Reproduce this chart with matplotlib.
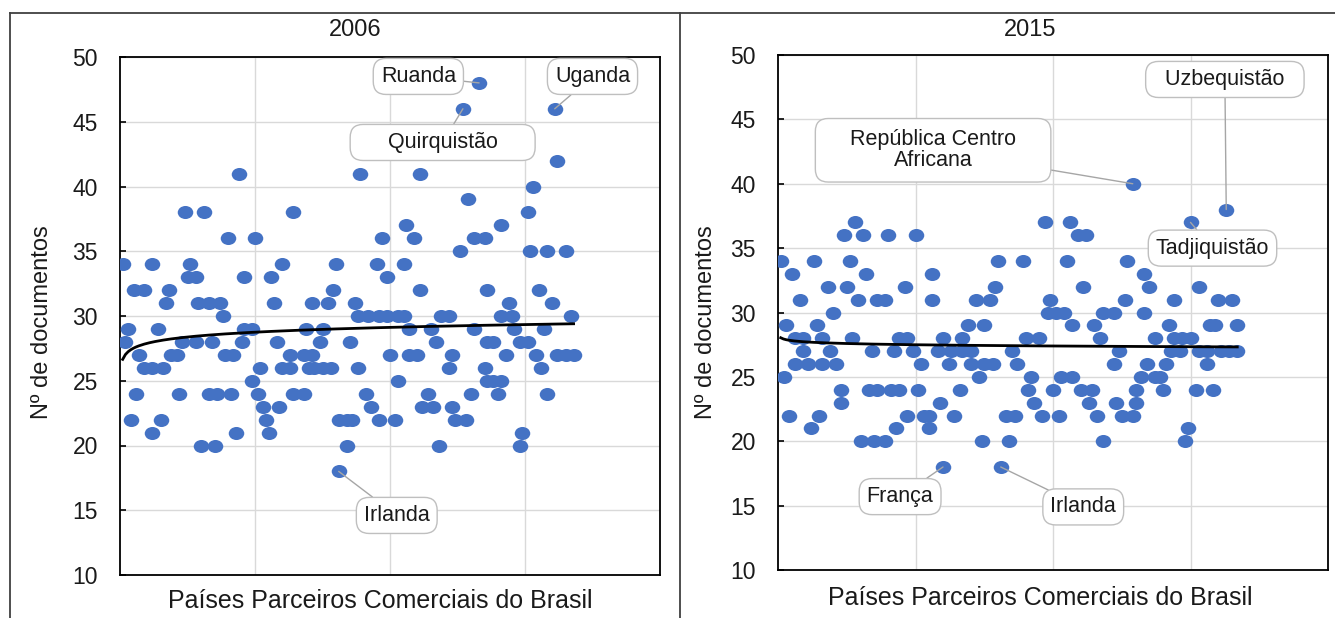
import numpy as np
import matplotlib
matplotlib.use("Agg")
import matplotlib.pyplot as plt
from matplotlib.path import Path
from matplotlib.lines import Line2D

plt.rcParams['font.family'] = ['Liberation Sans', 'DejaVu Sans']

# (país, nº de documentos) -- 2006
pts_2006 = [
    (133, 48), (127, 46), (161, 46), (162, 42),
    (44, 41), (89, 41), (111, 41), (153, 40), (129, 39),
    (24, 38), (31, 38), (64, 38), (151, 38), (106, 37), (141, 37),
    (40, 36), (50, 36), (97, 36), (109, 36), (131, 36), (135, 36),
    (126, 35), (152, 35), (158, 35), (165, 35),
    (1, 34), (12, 34), (26, 34), (60, 34), (80, 34), (95, 34), (105, 34),
    (25, 33), (28, 33), (46, 33), (56, 33), (99, 33),
    (5, 32), (9, 32), (18, 32), (79, 32), (111, 32), (136, 32), (155, 32),
    (17, 31), (29, 31), (33, 31), (37, 31), (57, 31), (71, 31), (77, 31), (87, 31), (144, 31), (160, 31),
    (38, 30), (88, 30), (92, 30), (96, 30), (99, 30), (103, 30), (105, 30), (119, 30), (122, 30),
    (141, 30), (145, 30), (167, 30),
    (3, 29), (14, 29), (46, 29), (49, 29), (69, 29), (75, 29), (107, 29), (115, 29), (131, 29),
    (146, 29), (157, 29),
    (2, 28), (23, 28), (28, 28), (34, 28), (45, 28), (58, 28), (74, 28), (85, 28), (117, 28),
    (136, 28), (138, 28), (148, 28), (151, 28),
    (7, 27), (19, 27), (21, 27), (39, 27), (42, 27), (63, 27), (68, 27), (71, 27), (100, 27),
    (107, 27), (110, 27), (123, 27), (143, 27), (154, 27), (162, 27), (165, 27), (168, 27),
    (9, 26), (12, 26), (16, 26), (52, 26), (60, 26), (63, 26), (70, 26), (72, 26), (75, 26),
    (78, 26), (88, 26), (122, 26), (135, 26), (156, 26),
    (49, 25), (103, 25), (136, 25), (138, 25), (141, 25),
    (6, 24), (22, 24), (33, 24), (36, 24), (41, 24), (51, 24), (64, 24), (68, 24), (91, 24),
    (114, 24), (130, 24), (140, 24), (158, 24),
    (53, 23), (59, 23), (93, 23), (112, 23), (116, 23), (123, 23),
    (4, 22), (15, 22), (54, 22), (81, 22), (84, 22), (86, 22), (96, 22), (102, 22), (124, 22), (128, 22),
    (12, 21), (43, 21), (55, 21), (149, 21),
    (30, 20), (35, 20), (84, 20), (118, 20), (148, 20),
    (81, 18),
]

# 2015
pts_2015 = [
    (129, 40), (163, 38),
    (28, 37), (97, 37), (106, 37), (150, 37),
    (24, 36), (31, 36), (40, 36), (50, 36), (109, 36), (112, 36),
    (1, 34), (13, 34), (26, 34), (80, 34), (89, 34), (105, 34), (127, 34),
    (5, 33), (32, 33), (56, 33), (133, 33),
    (18, 32), (25, 32), (46, 32), (79, 32), (111, 32), (135, 32), (153, 32),
    (8, 31), (29, 31), (36, 31), (39, 31), (56, 31), (72, 31), (77, 31), (99, 31), (126, 31),
    (144, 31), (160, 31), (165, 31),
    (20, 30), (98, 30), (101, 30), (104, 30), (118, 30), (122, 30), (133, 30),
    (3, 29), (14, 29), (69, 29), (75, 29), (107, 29), (115, 29), (142, 29), (157, 29), (159, 29), (167, 29),
    (6, 28), (9, 28), (16, 28), (27, 28), (44, 28), (47, 28), (60, 28), (67, 28), (90, 28),
    (95, 28), (117, 28), (137, 28), (144, 28), (147, 28), (150, 28),
    (9, 27), (19, 27), (34, 27), (42, 27), (49, 27), (58, 27), (63, 27), (67, 27), (70, 27),
    (85, 27), (124, 27), (143, 27), (146, 27), (153, 27), (156, 27), (161, 27), (164, 27), (167, 27),
    (6, 26), (11, 26), (16, 26), (21, 26), (52, 26), (62, 26), (70, 26), (75, 26), (78, 26),
    (87, 26), (122, 26), (134, 26), (141, 26), (156, 26),
    (2, 25), (73, 25), (92, 25), (103, 25), (107, 25), (132, 25), (137, 25), (139, 25),
    (23, 24), (33, 24), (36, 24), (41, 24), (44, 24), (51, 24), (66, 24), (91, 24), (100, 24),
    (110, 24), (114, 24), (130, 24), (140, 24), (152, 24), (158, 24),
    (23, 23), (59, 23), (93, 23), (113, 23), (123, 23), (130, 23),
    (4, 22), (15, 22), (47, 22), (53, 22), (55, 22), (64, 22), (83, 22), (86, 22), (96, 22),
    (102, 22), (116, 22), (125, 22), (129, 22),
    (12, 21), (43, 21), (55, 21), (149, 21),
    (30, 20), (35, 20), (39, 20), (74, 20), (84, 20), (118, 20), (148, 20),
    (60, 18), (81, 18),
]

names_2006 = ["Ruanda", "Quirquistão", "Uganda", "Irlanda"]
named_2006 = [(133, 48), (127, 46), (161, 46), (81, 18)]
names_2015 = ["República Centro\nAfricana", "Uzbequistão", "Tadjiquistão", "França", "Irlanda"]
named_2015 = [(129, 40), (163, 38), (150, 37), (60, 18), (81, 18)]

W, H = 1335, 618
fig = plt.figure(figsize=(W / 100, H / 100), dpi=100)

blue = "#4472C4"
txt = "#1a1a1a"

circ = Path.unit_circle()
ell = Path(circ.vertices * [1.0, 0.84], circ.codes)


def panel(rect, pts, names, named, box_xy, label_text, box_pad):
    ax = fig.add_axes(rect)
    x, y = np.array(pts, dtype=float).T
    ax.scatter(x, y, s=125, marker=ell, color=blue, linewidths=0, zorder=3)
    # linha de tendência logarítmica
    b, a = np.polyfit(np.log(x), y, 1)
    xs = np.arange(x.min(), x.max() + 1)
    ax.plot(xs, a + b * np.log(xs), color="black", lw=2, zorder=4)

    ax.set_xlim(0, 200)
    ax.set_ylim(10, 50)
    ax.set_yticks(range(10, 51, 5))
    ax.set_xticks([50, 100, 150])
    ax.set_xticklabels([])
    ax.grid(True, color="#D9D9D9", lw=1, zorder=0)
    ax.set_axisbelow(True)
    ax.tick_params(axis="x", length=0)
    ax.tick_params(axis="y", direction="in", length=4, width=1.2, pad=16,
                   labelsize=16.5, labelcolor=txt)
    for s in ax.spines.values():
        s.set_linewidth(1.3)
        s.set_color("black")

    for name, (px, py), (bx, by) in zip(names, named, box_xy):
        pad = box_pad.get(name, 0.35)
        ax.annotate(label_text.get(name, name), xy=(px, py), xytext=(bx, by),
                    ha="center", va="center", fontsize=15.5, color=txt, zorder=5,
                    linespacing=1.0,
                    bbox=dict(boxstyle=f"round,pad={pad},rounding_size=0.6",
                              fc="white", ec="#BFBFBF", lw=1),
                    arrowprops=dict(arrowstyle="-", color="#A6A6A6", lw=1,
                                    shrinkA=0, shrinkB=0))
    return ax


panel([120 / W, 1 - 575 / H, 540 / W, 518 / H], pts_2006, names_2006, named_2006,
      [(110.5, 48.5), (119.5, 43.4), (175, 48.5), (102.5, 14.6)],
      {"Quirquistão": "     Quirquistão     "}, {})
panel([778 / W, 1 - 570 / H, 550 / W, 515 / H], pts_2015, names_2015, named_2015,
      [(56.4, 42.6), (162.5, 48.1), (158, 35.0), (44.4, 15.7), (111, 14.9)],
      {"República Centro\nAfricana": "    República Centro    \nAfricana",
       "Uzbequistão": "  Uzbequistão  "},
      {"República Centro\nAfricana": 0.5})

# títulos e rótulos
fig.text(355 / W, 1 - 30 / H, "2006", ha="center", va="center", fontsize=17, color=txt)
fig.text(1030 / W, 1 - 30 / H, "2015", ha="center", va="center", fontsize=17, color=txt)
for xl in (42, 706):
    fig.text(xl / W, 1 - 322 / H, "Nº de documentos", rotation=90,
             ha="center", va="center", fontsize=17, color=txt)
fig.text(380 / W, 1 - 601 / H, "Países Parceiros Comerciais do Brasil",
         ha="center", va="center", fontsize=18, color=txt)
fig.text(1040 / W, 1 - 598 / H, "Países Parceiros Comerciais do Brasil",
         ha="center", va="center", fontsize=18, color=txt)

# moldura externa
fc = "#404040"
fig.add_artist(Line2D([10 / W, 1], [1 - 13 / H, 1 - 13 / H], color=fc, lw=1.3))
fig.add_artist(Line2D([10 / W, 10 / W], [0, 1 - 13 / H], color=fc, lw=1.3))
fig.add_artist(Line2D([680 / W, 680 / W], [0, 1 - 13 / H], color=fc, lw=1.3))

fig.savefig("out.png", dpi=100)
